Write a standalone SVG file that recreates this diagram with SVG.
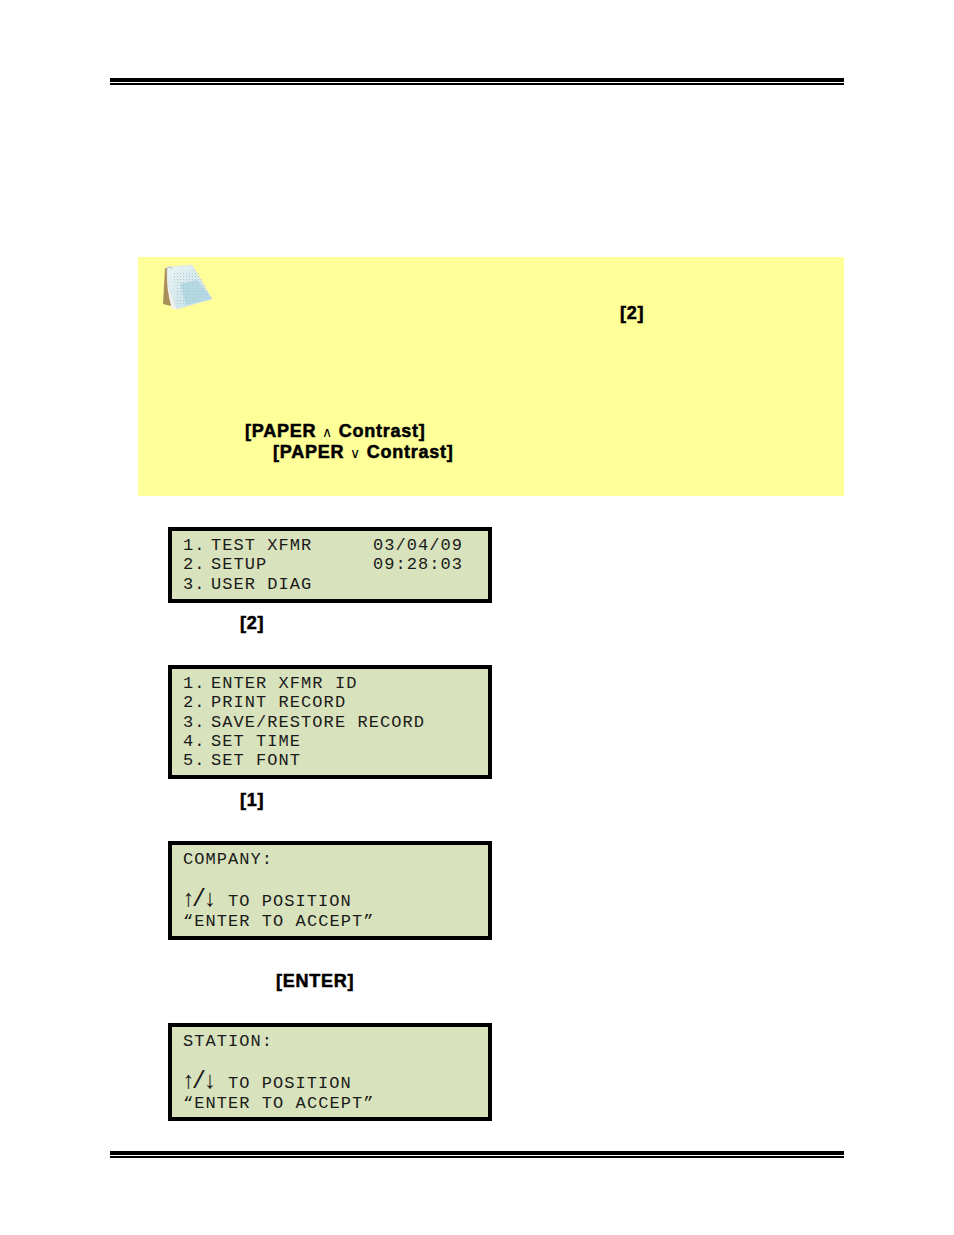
<svg xmlns="http://www.w3.org/2000/svg" width="954" height="1235" viewBox="0 0 954 1235">
<style>
.rule{fill:#000}
.lcd{fill:#d8e2bc;stroke:#000;stroke-width:4}
.l{font-family:"Liberation Mono",monospace;font-size:17px;letter-spacing:1.06px;fill:#1a1a1a}
.a{font-family:"Liberation Mono",monospace;font-size:24px;letter-spacing:-3.6px;fill:#1a1a1a}
.k{font-family:"Liberation Sans",Arial,sans-serif;font-size:18px;letter-spacing:.75px;font-weight:bold;fill:#000;stroke:#000;stroke-width:.55}
.s{font-family:"DejaVu Sans",sans-serif;font-size:14px;font-weight:normal;stroke:none}
</style>
<defs>
<linearGradient id="pg" x1="0" y1="0" x2="1" y2="1"><stop offset="0" stop-color="#eef5f5"/><stop offset="1" stop-color="#b5dce6"/></linearGradient>
<pattern id="dots" width="3" height="3" patternUnits="userSpaceOnUse"><rect width="1" height="1" fill="#b9c4c8"/></pattern>
</defs>
<rect width="954" height="1235" fill="#fff"/>
<g id="header-rule"><rect class="rule" x="110" y="78" width="734" height="4"/><rect class="rule" x="110" y="83" width="734" height="2"/></g>
<g id="footer-rule"><rect class="rule" x="110" y="1151" width="734" height="4"/><rect class="rule" x="110" y="1156" width="734" height="2"/></g>
<g id="note">
<rect x="138" y="257" width="706" height="239" fill="#ffff99"/>
<g id="note-icon">
<path d="M165 268L163 304L171 306L172 270Z" fill="#a98f5c"/>
<path d="M167 268L184 266L177 309L172 309Q166 290 167 268Z" fill="#f2f2f0"/>
<path d="M167 267L192 265L212 299L177 309Q167 290 167 267Z" fill="url(#pg)" stroke="#e2e2e2" stroke-width=".8"/>
<path d="M197 280L212 299L186 305L180 284Z" fill="#b3d9e4"/>
<path d="M172 272L198 270L211 298L178 307Z" fill="url(#dots)"/>
<path d="M167 270a2.500 2.500 0 1 1 5 -1" fill="none" stroke="#bbb" stroke-width="1"/>
</g>
<text class="k" x="620" y="319">[2]</text>
<text class="k" x="245" y="437">[PAPER <tspan class="s">∧</tspan> Contrast]</text>
<text class="k" x="273" y="458">[PAPER <tspan class="s">∨</tspan> Contrast]</text>
</g>
<g id="lcd-main">
<rect class="lcd" x="170" y="529" width="320" height="72"/>
<text class="l" x="183" y="550">1.</text><text class="l" x="211" y="550">TEST XFMR</text><text class="l" x="373" y="550">03/04/09</text>
<text class="l" x="183" y="569">2.</text><text class="l" x="211" y="569">SETUP</text><text class="l" x="373" y="569">09:28:03</text>
<text class="l" x="183" y="589">3.</text><text class="l" x="211" y="589">USER DIAG</text>
</g>
<text class="k" x="240" y="629">[2]</text>
<g id="lcd-setup">
<rect class="lcd" x="170" y="667" width="320" height="110"/>
<text class="l" x="183" y="688">1.</text><text class="l" x="211" y="688">ENTER XFMR ID</text>
<text class="l" x="183" y="707">2.</text><text class="l" x="211" y="707">PRINT RECORD</text>
<text class="l" x="183" y="727">3.</text><text class="l" x="211" y="727">SAVE/RESTORE RECORD</text>
<text class="l" x="183" y="746">4.</text><text class="l" x="211" y="746">SET TIME</text>
<text class="l" x="183" y="765">5.</text><text class="l" x="211" y="765">SET FONT</text>
</g>
<text class="k" x="240" y="806">[1]</text>
<g id="lcd-company">
<rect class="lcd" x="170" y="843" width="320" height="95"/>
<text class="l" x="183" y="864">COMPANY:</text>
<text class="a" x="181" y="906">↑/↓</text><text class="l" x="228" y="906">TO POSITION</text>
<text class="l" x="183" y="926">“ENTER TO ACCEPT”</text>
</g>
<text class="k" x="276" y="987">[ENTER]</text>
<g id="lcd-station">
<rect class="lcd" x="170" y="1025" width="320" height="94"/>
<text class="l" x="183" y="1046">STATION:</text>
<text class="a" x="181" y="1088">↑/↓</text><text class="l" x="228" y="1088">TO POSITION</text>
<text class="l" x="183" y="1108">“ENTER TO ACCEPT”</text>
</g>
</svg>
